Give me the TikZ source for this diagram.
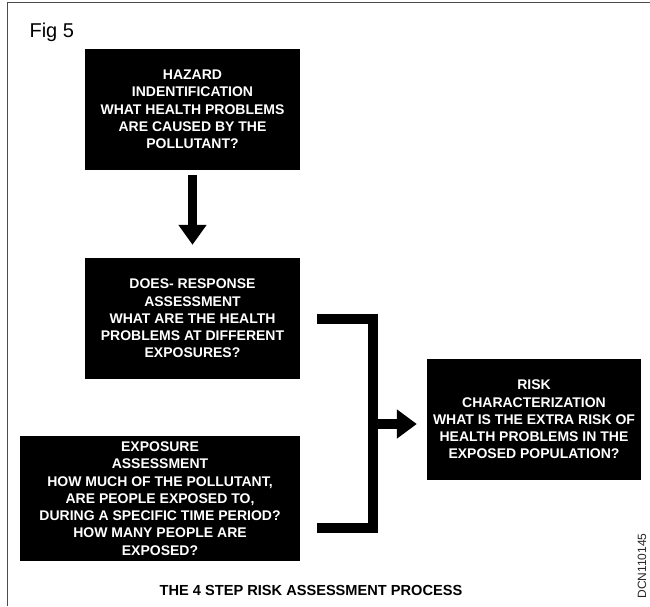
\documentclass[tikz,border=0pt]{standalone}
\usepackage{fontspec}
\setmainfont{Liberation Sans}
\usetikzlibrary{arrows.meta}
\begin{document}
\begin{tikzpicture}[x=1pt,y=-1pt,
  stepbox/.style={rectangle, fill=black, text=white, inner sep=0pt, align=center,
    font=\bfseries\fontsize{14}{17.3}\selectfont},
  fatarrow/.style={line width=#1, line cap=butt},
  frameline/.style={draw=black!70, line width=1.4pt}]
\useasboundingbox (0,0) rectangle (650,606);
% frame
\draw[frameline] (650,2.5) -- (7.5,2.5) -- (7.5,606);
% title texts
\node[anchor=base west, font=\fontsize{20}{24}\selectfont] (fig) at (26,37) {Fig 5};
\node[font=\bfseries\fontsize{14.6}{17}\selectfont] (title) at (311,590) {THE 4 STEP RISK ASSESSMENT PROCESS};
\node[rotate=90, anchor=base, inner sep=0pt, font=\fontsize{12}{14}\selectfont, text=black!85] (dcn) at (646,566) {DCN110145};
% boxes
\node[stepbox, minimum width=215pt, minimum height=121pt] (haz) at (192.5,109.5)
  {HAZARD\\INDENTIFICATION\\WHAT HEALTH PROBLEMS\\ARE CAUSED BY THE\\POLLUTANT?};
\node[stepbox, minimum width=215pt, minimum height=121pt] (dose) at (192.5,318.5)
  {DOES- RESPONSE\\ASSESSMENT\\WHAT ARE THE HEALTH\\PROBLEMS AT DIFFERENT\\EXPOSURES?};
\node[stepbox, minimum width=280pt, minimum height=125pt] (expo) at (160,498.5)
  {EXPOSURE\\ASSESSMENT\\HOW MUCH OF THE POLLUTANT,\\ARE PEOPLE EXPOSED TO,\\DURING A SPECIFIC TIME PERIOD?\\HOW MANY PEOPLE ARE\\EXPOSED?};
\node[stepbox, minimum width=214pt, minimum height=121pt] (risk) at (534,419.5)
  {RISK\\CHARACTERIZATION\\WHAT IS THE EXTRA RISK OF\\HEALTH PROBLEMS IN THE\\EXPOSED POPULATION?};
% arrow hazard -> dose
\draw[fatarrow=9pt, -{Triangle[length=20pt,width=27pt]}, shorten <=5pt, shorten >=13pt]
  (haz.south) -- (dose.north);
% bracket
\coordinate (bt) at ([xshift=17pt]dose.east);
\coordinate (bb) at (317,528);
\coordinate (j) at (372.5,424);
\draw[line width=10pt, line join=miter] (bt) -- (bt -| j) -- (bb -| j) -- (bb);
\draw[fatarrow=10pt, -{Triangle[length=20pt,width=28pt]}, shorten >=10pt]
  (j) -- (j -| risk.west);
\end{tikzpicture}
\end{document}
